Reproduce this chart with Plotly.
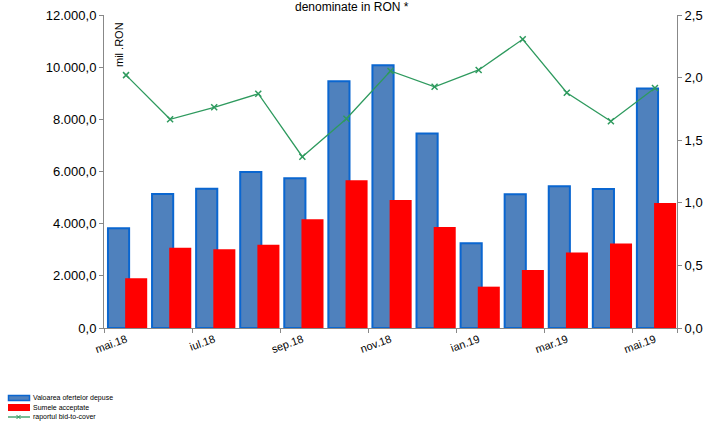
import plotly.graph_objects as go

months = ["mai.18", "iun.18", "iul.18", "aug.18", "sep.18", "oct.18", "nov.18",
          "dec.18", "ian.19", "feb.19", "mar.19", "apr.19", "mai.19"]
oferte = [3820, 5140, 5340, 5980, 5740, 9460, 10070, 7460, 3250, 5125, 5430, 5330, 9180]
acceptate = [1905, 3080, 3015, 3195, 4165, 5660, 4905, 3870, 1585, 2225, 2890, 3235, 4795]
btc = [2.02, 1.667, 1.763, 1.871, 1.368, 1.672, 2.053, 1.927, 2.061, 2.306, 1.879, 1.651, 1.917]

left_ticks = [0, 2000, 4000, 6000, 8000, 10000, 12000]
left_text = ["0,0", "2.000,0", "4.000,0", "6.000,0", "8.000,0", "10.000,0", "12.000,0"]
right_ticks = [0, 0.5, 1.0, 1.5, 2.0, 2.5]
right_text = ["0,0", "0,5", "1,0", "1,5", "2,0", "2,5"]

names = ["Valoarea ofertelor depuse", "Sumele acceptate", "raportul bid-to-cover"]

BLUE_FILL = "#4F81BD"
BLUE_LINE = "#0A66D0"
RED = "#FF0000"
GREEN = "#2E9A5E"
AXIS = "#888888"
FONT = "Liberation Sans, Arial, sans-serif"

W, H = 704, 422
L, R, T, B = 104, 27, 15, 94
PW, PH = W - L - R, H - T - B


def px(x):
    return (x - L) / PW


def py(y):
    return (H - B - y) / PH


xi = list(range(len(months)))

fig = go.Figure()
fig.add_trace(go.Bar(
    x=xi, y=oferte, name=names[0],
    width=0.48, offset=-0.41,
    marker=dict(color=BLUE_FILL, line=dict(color=BLUE_LINE, width=2)),
    showlegend=False,
))
fig.add_trace(go.Bar(
    x=xi, y=acceptate, name=names[1],
    width=0.5, offset=-0.02,
    marker=dict(color=RED, line=dict(width=0)),
    showlegend=False,
))
fig.add_trace(go.Scatter(
    x=xi, y=btc, name=names[2], yaxis="y2",
    mode="lines+markers",
    line=dict(color=GREEN, width=1.3),
    marker=dict(symbol="x-thin", size=6, line=dict(color=GREEN, width=1.5)),
    showlegend=False,
))

shapes = []
annotations = [
    dict(text="denominate in RON *", xref="paper", yref="paper",
         x=px(352), y=py(7), xanchor="center", yanchor="middle",
         showarrow=False, font=dict(size=12, family=FONT)),
    dict(text="mil .RON", xref="paper", yref="paper",
         x=px(119), y=py(45), xanchor="center", yanchor="middle", textangle=-90,
         showarrow=False, font=dict(size=11, family=FONT)),
]

# legend (drawn manually for compact layout)
shapes.append(dict(type="rect", xref="paper", yref="paper",
                   x0=px(8.5), x1=px(29.5), y0=py(395.5), y1=py(400.5),
                   fillcolor=BLUE_FILL, line=dict(color=BLUE_LINE, width=1.5)))
shapes.append(dict(type="rect", xref="paper", yref="paper",
                   x0=px(8), x1=px(30), y0=py(404), y1=py(411),
                   fillcolor=RED, line=dict(width=0)))
shapes.append(dict(type="line", xref="paper", yref="paper",
                   x0=px(8), x1=px(30), y0=py(417), y1=py(417),
                   line=dict(color=GREEN, width=1.3)))
shapes.append(dict(type="line", xref="paper", yref="paper",
                   x0=px(16.5), x1=px(20.5), y0=py(415), y1=py(419),
                   line=dict(color=GREEN, width=1)))
shapes.append(dict(type="line", xref="paper", yref="paper",
                   x0=px(16.5), x1=px(20.5), y0=py(419), y1=py(415),
                   line=dict(color=GREEN, width=1)))
for name, yy in zip(names, [398, 407.5, 417]):
    annotations.append(dict(text=name, xref="paper", yref="paper",
                            x=px(31), y=py(yy), xanchor="left", yanchor="middle",
                            showarrow=False, font=dict(size=7, family=FONT, color="#000000")))

fig.update_layout(
    width=W, height=H,
    margin=dict(l=L, r=R, t=T, b=B, autoexpand=False),
    paper_bgcolor="white", plot_bgcolor="white",
    barmode="overlay",
    font=dict(family=FONT, color="#000000"),
    showlegend=False,
    hovermode=False,
    xaxis=dict(
        range=[-0.5, 12.5], automargin=False,
        tickmode="array", tickvals=xi[::2], ticktext=months[::2],
        tickangle=-20, tickfont=dict(size=11),
        ticks="", showline=True, linecolor=AXIS, linewidth=1,
        showgrid=False, zeroline=False,
        minor=dict(tickmode="array", tickvals=[i - 0.5 for i in xi[::2]] + [12.5],
                   ticks="outside", ticklen=4, tickcolor=AXIS, showgrid=False),
    ),
    yaxis=dict(
        range=[0, 12000], automargin=False,
        tickmode="array", tickvals=left_ticks, ticktext=left_text,
        tickfont=dict(size=13), ticks="outside", ticklen=4, tickcolor=AXIS,
        showline=True, linecolor=AXIS, linewidth=1,
        showgrid=False, zeroline=False,
    ),
    yaxis2=dict(
        range=[0, 2.5], automargin=False,
        tickmode="array", tickvals=right_ticks, ticktext=right_text,
        tickfont=dict(size=13), ticks="outside", ticklen=4, tickcolor=AXIS,
        showline=True, linecolor=AXIS, linewidth=1,
        showgrid=False, zeroline=False,
        overlaying="y", side="right",
    ),
    shapes=shapes,
    annotations=annotations,
)

fig.write_html(
    "out.html",
    config={"displayModeBar": False, "staticPlot": True},
    post_script="document.body.style.margin='0';document.body.style.padding='0';",
)
